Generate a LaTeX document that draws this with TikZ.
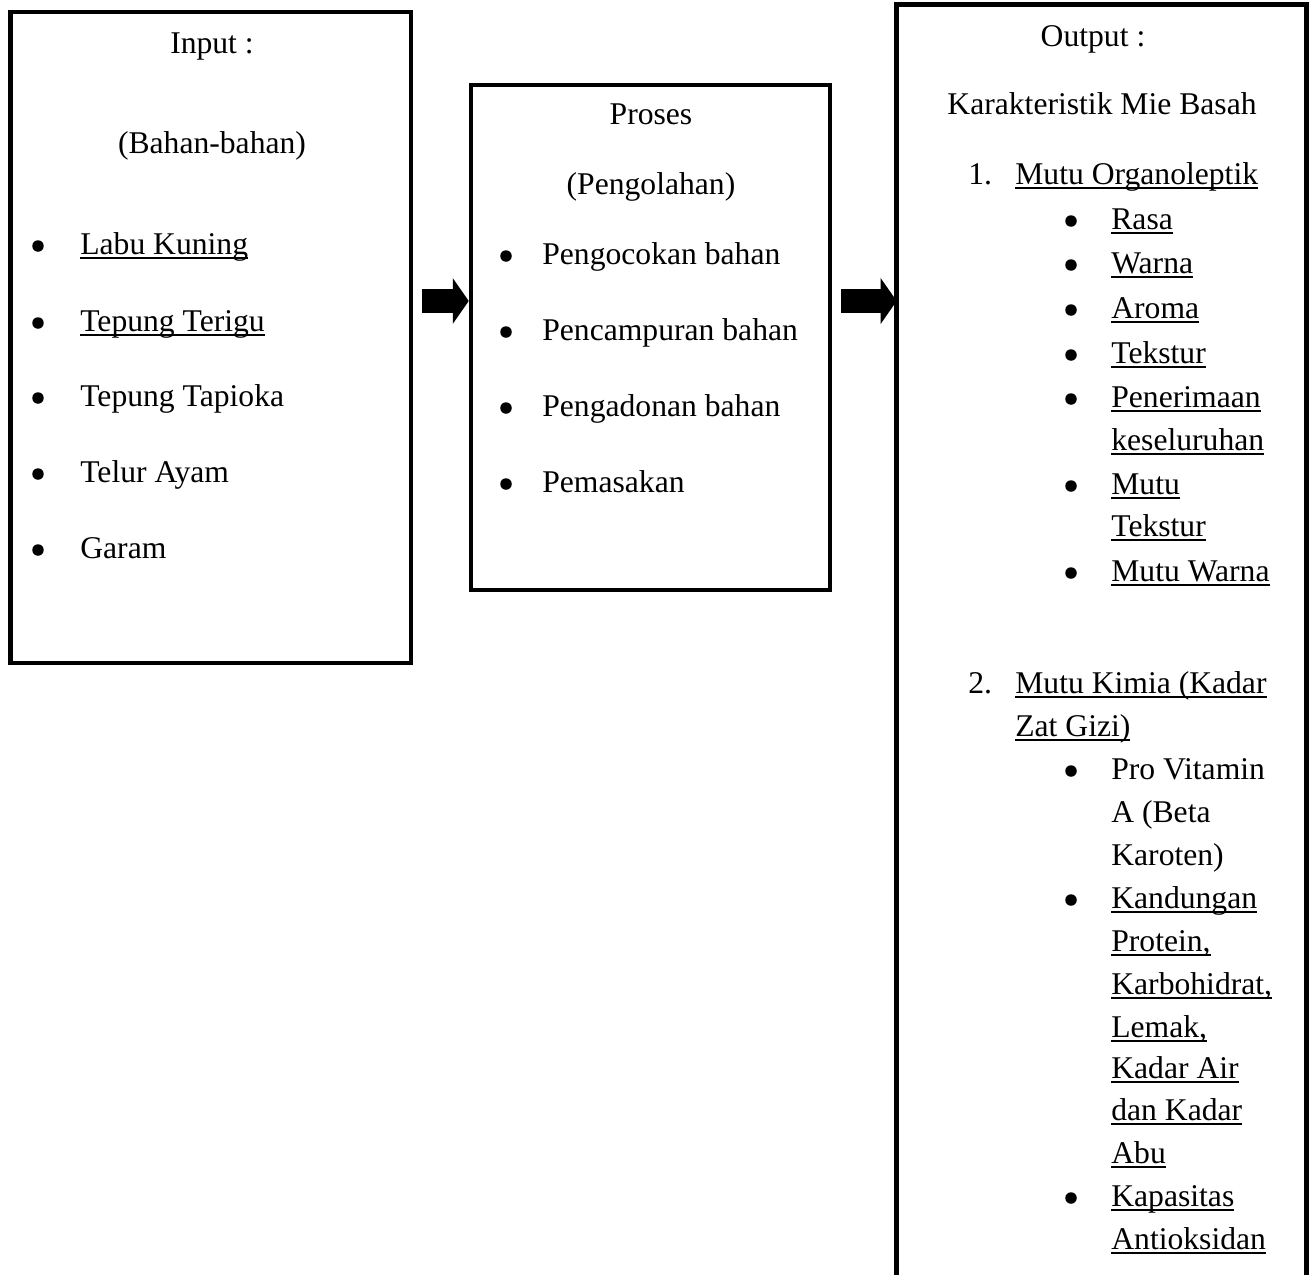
\documentclass[tikz,border=0pt]{standalone}
\usepackage{fontspec}
\setmainfont{Liberation Serif}
\usetikzlibrary{arrows.meta}
\newsavebox\ulbox
\newcommand{\uln}[1]{\sbox\ulbox{#1}\rlap{\rule[-2.6pt]{\wd\ulbox}{1pt}}\usebox\ulbox}
\begin{document}
\begin{tikzpicture}[
    x=0.02cm,y=-0.02cm,
    every node/.style={font=\fontsize{18}{22}\selectfont, inner sep=0pt},
    frame/.style={draw=black, line width=2.6pt},
    head/.style={anchor=base},
    dot/.style={circle, fill=black, minimum size=0.23cm, yshift=0.16cm},
    item/.style={anchor=base west},
    bigarrow/.style={line width=0.48cm, -{Triangle[length=0.32cm, width=0.9cm]}}
]
    \useasboundingbox (0,0) rectangle (1310,1274);

    % the three panels
    \node[frame, minimum width=8.01cm, minimum height=13.02cm] (inbox) at (210.75,337.5) {};
    \node[frame, minimum width=7.18cm, minimum height=10.1cm] (procbox) at (650.5,337.5) {};
    \node[minimum width=8.18cm, minimum height=25.5cm] (outbox) at (1101.5,642.5) {};
    \draw[frame] (outbox.south west) -- (outbox.north west) -- (outbox.north east) -- (outbox.south east);

    % arrows between panels
    \coordinate (a1) at (422,301);
    \coordinate (a2) at (841,301);
    \draw[bigarrow] (a1) -- (a1 -| procbox.west);
    \draw[bigarrow] (a2) -- (a2 -| outbox.west);

    % input
    \node[head] (inhead) at (212,54) {Input :};
    \node[head] (insub) at (212,153) {(Bahan-bahan)};
    \node[dot] (ind1) at (38,254) {};
    \node[dot] (ind2) at (38,331) {};
    \node[dot] (ind3) at (38,406) {};
    \node[dot] (ind4) at (38,482) {};
    \node[dot] (ind5) at (38,558) {};
    \node[item] (in1) at (80,254) {\uln{Labu Kuning}};
    \node[item] (in2) at (80,331) {\uln{Tepung Terigu}};
    \node[item] (in3) at (80,406) {Tepung Tapioka};
    \node[item] (in4) at (80,482) {Telur Ayam};
    \node[item] (in5) at (80,558) {Garam};

    % process
    \node[head] (prochead) at (651,124) {Proses};
    \node[head] (procsub) at (651,194) {(Pengolahan)};
    \node[dot] (procd1) at (506,264) {};
    \node[dot] (procd2) at (506,340) {};
    \node[dot] (procd3) at (506,416) {};
    \node[dot] (procd4) at (506,492) {};
    \node[item] (proc1) at (542,264) {Pengocokan bahan};
    \node[item] (proc2) at (542,340) {Pencampuran bahan};
    \node[item] (proc3) at (542,416) {Pengadonan bahan};
    \node[item] (proc4) at (542,492) {Pemasakan};

    % output
    \node[head] (outhead) at (1093,47) {Output :};
    \node[head] (outsub) at (1102,114) {Karakteristik Mie Basah};
    \node[item] (num1) at (968,184) {1.};
    \node[item] (grp1) at (1015,184) {\uln{Mutu Organoleptik}};
    \node[dot] (od1) at (1071,229) {};
    \node[dot] (od2) at (1071,273) {};
    \node[dot] (od3) at (1071,318) {};
    \node[dot] (od4) at (1071,363) {};
    \node[dot] (od5) at (1071,407) {};
    \node[dot] (od6) at (1071,494) {};
    \node[dot] (od7) at (1071,581) {};
    \node[item] (o1) at (1111,229) {\uln{Rasa}};
    \node[item] (o2) at (1111,273) {\uln{Warna}};
    \node[item] (o3) at (1111,318) {\uln{Aroma}};
    \node[item] (o4) at (1111,363) {\uln{Tekstur}};
    \node[item] (o5a) at (1111,407) {\uln{Penerimaan}};
    \node[item] (o5b) at (1111,450) {\uln{keseluruhan}};
    \node[item] (o6a) at (1111,494) {\uln{Mutu}};
    \node[item] (o6b) at (1111,536) {\uln{Tekstur}};
    \node[item] (o7) at (1111,581) {\uln{Mutu Warna}};

    \node[item] (num2) at (968,693) {2.};
    \node[item] (grp2a) at (1015,693) {\uln{Mutu Kimia (Kadar}};
    \node[item] (grp2b) at (1015,736) {\uln{Zat Gizi)}};
    \node[dot] (kd1) at (1071,779) {};
    \node[dot] (kd2) at (1071,908) {};
    \node[dot] (kd3) at (1071,1206) {};
    \node[item] (k1a) at (1111,779) {Pro Vitamin};
    \node[item] (k1b) at (1111,822) {A (Beta};
    \node[item] (k1c) at (1111,865) {Karoten)};
    \node[item] (k2a) at (1111,908) {\uln{Kandungan}};
    \node[item] (k2b) at (1111,951) {\uln{Protein,}};
    \node[item] (k2c) at (1111,994) {\uln{Karbohidrat,}};
    \node[item] (k2d) at (1111,1037) {\uln{Lemak,}};
    \node[item] (k2e) at (1111,1078) {\uln{Kadar Air}};
    \node[item] (k2f) at (1111,1120) {\uln{dan Kadar}};
    \node[item] (k2g) at (1111,1163) {\uln{Abu}};
    \node[item] (k3a) at (1111,1206) {\uln{Kapasitas}};
    \node[item] (k3b) at (1111,1249) {\uln{Antioksidan}};
\end{tikzpicture}
\end{document}
